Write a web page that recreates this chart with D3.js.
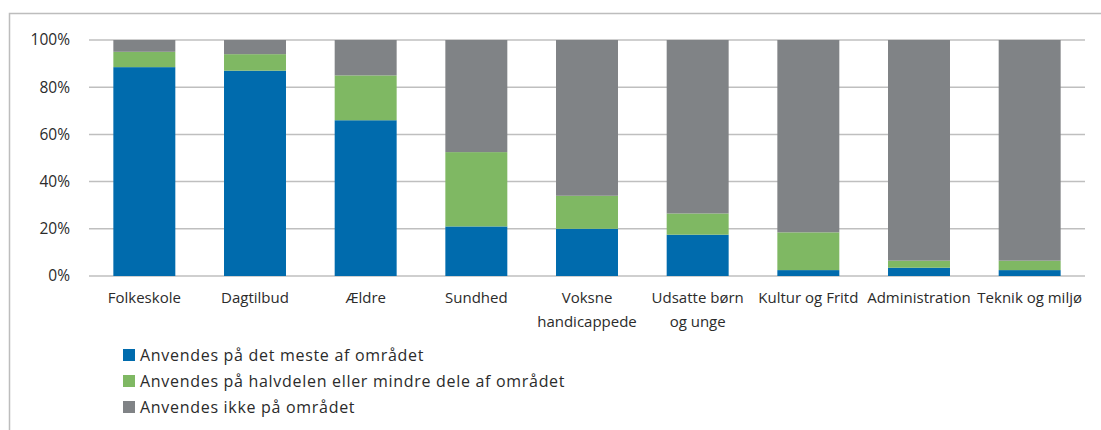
<!DOCTYPE html>
<html>
<head>
  <meta charset="utf-8">
  <title>Anvendelse pr. område</title>
  <script src="https://d3js.org/d3.v7.min.js"></script>
  <style>
    html, body { margin: 0; background: #fff; overflow: hidden; }
    text { font-family: "Open Sans", "Liberation Sans", Arial, sans-serif; fill: #2b2b2b; }
  </style>
</head>
<body>
<svg width="1101" height="430"></svg>
<script>
// kategorier (linjeskift markeret med \n)
const categories = ["Folkeskole", "Dagtilbud", "Ældre", "Sundhed", "Voksne\nhandicappede",
  "Udsatte børn\nog unge", "Kultur og Fritd", "Administration", "Teknik og miljø"];

const seriesNames = ["Anvendes på det meste af området",
  "Anvendes på halvdelen eller mindre dele af området",
  "Anvendes ikke på området"];

// procent-værdier
const meste    = [88.5, 87, 66, 21, 20, 17.5, 2.5, 3.5, 2.5];
const halvdel  = [6.5, 7, 19, 31.5, 14, 9, 16, 3, 4];
const ikke     = [5, 6, 15, 47.5, 66, 73.5, 81.5, 93.5, 93.5];

const yTicks = [0, 20, 40, 60, 80, 100];
const colors = ["#006bad", "#7fb863", "#808386"];

const svg = d3.select("svg");

// ramme øverst og til venstre
svg.append("path")
  .attr("d", "M9.5,430 V13.5 H1101")
  .attr("fill", "none").attr("stroke", "#bdbdbd").attr("stroke-width", 1.5);

const x = d3.scaleBand().domain(categories).range([89, 1085]).paddingInner(0.44).paddingOuter(0.22);
const y = d3.scaleLinear().domain([0, 100]).range([276, 40]);

// gitterlinjer
svg.append("g")
  .selectAll("line")
  .data(yTicks)
  .join("line")
  .attr("x1", 89).attr("x2", 1085)
  .attr("y1", d => y(d)).attr("y2", d => y(d))
  .attr("stroke", "#bfbfbf").attr("stroke-width", 1.5);

svg.append("g")
  .selectAll("text")
  .data(yTicks)
  .join("text")
  .attr("x", 70).attr("y", d => y(d))
  .attr("dy", "0.35em")
  .attr("text-anchor", "end")
  .style("font-size", "15.5px")
  .text(d => d + "%");

const rows = categories.map((c, i) => ({ cat: c, meste: meste[i], halvdel: halvdel[i], ikke: ikke[i] }));
const stack = d3.stack().keys(["meste", "halvdel", "ikke"])(rows);

svg.append("g")
  .selectAll("g")
  .data(stack)
  .join("g")
  .attr("fill", (d, i) => colors[i])
  .selectAll("rect")
  .data(d => d)
  .join("rect")
  .attr("x", d => x(d.data.cat))
  .attr("width", x.bandwidth())
  .attr("y", d => y(d[1]))
  .attr("height", d => y(d[0]) - y(d[1]));

// kategori-etiketter
const xl = svg.append("g")
  .selectAll("text")
  .data(categories)
  .join("text")
  .attr("x", d => x(d) + x.bandwidth() / 2)
  .attr("y", 303)
  .attr("text-anchor", "middle")
  .style("font-size", "15px");
xl.selectAll("tspan")
  .data(d => d.split("\n"))
  .join("tspan")
  .attr("x", function () { return d3.select(this.parentNode).attr("x"); })
  .attr("dy", (d, i) => i === 0 ? 0 : 24)
  .text(d => d);

// forklaring
const leg = svg.append("g")
  .selectAll("g")
  .data(seriesNames)
  .join("g")
  .attr("transform", (d, i) => `translate(123,${355 + i * 26})`);
leg.append("rect")
  .attr("x", 0).attr("y", -6).attr("width", 12).attr("height", 12)
  .attr("fill", (d, i) => colors[i]);
leg.append("text")
  .attr("x", 17).attr("dy", "0.35em")
  .style("font-size", "16px")
  .style("letter-spacing", "0.7px")
  .text(d => d);
</script>
</body>
</html>
